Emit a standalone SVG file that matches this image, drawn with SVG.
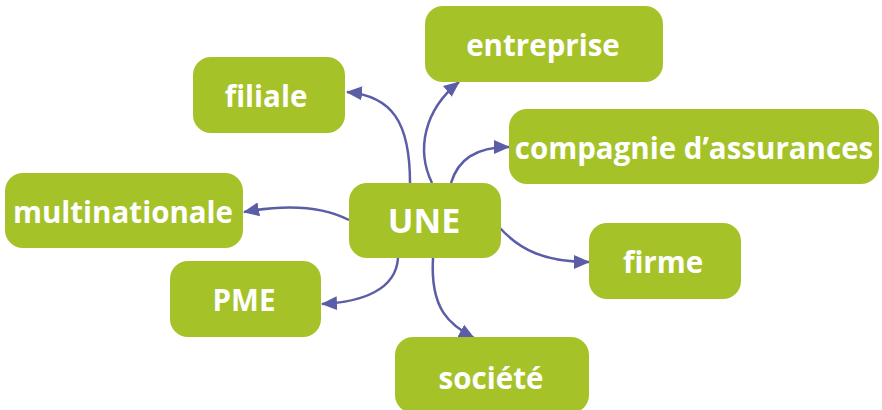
<svg xmlns="http://www.w3.org/2000/svg" width="882" height="410" viewBox="0 0 882 410">
<style>
.n{fill:#a6c229}
.t{fill:#fff;font-family:"Open Sans","DejaVu Sans",sans-serif;font-weight:700;font-size:29.5px;text-anchor:middle;dominant-baseline:central}
.c{fill:none;stroke:#5b5ea6;stroke-width:2.5;marker-end:url(#ah)}
</style>
<defs>
<marker id="ah" markerUnits="userSpaceOnUse" markerWidth="16" markerHeight="14" refX="15" refY="7" orient="auto" viewBox="0 0 16 14">
<path d="M0 0 L16 7 L0 14 Z" fill="#5b5ea6"/>
</marker>
</defs>
<g id="connectors">
<path class="c" d="M410 183 C410 122 392 96 347 92"/>
<path class="c" d="M432 183 C416 150 424 110 459 82"/>
<path class="c" d="M451 183 C458 160 475 147 509 147"/>
<path class="c" d="M349 220 C320 205 282 205 244 212"/>
<path class="c" d="M398 258 C396 290 362 302 322 304"/>
<path class="c" d="M433 258 C430 310 450 325 474 338"/>
<path class="c" d="M500 228 C520 250 545 262 589 262"/>
</g>
<g id="UNE"><rect class="n" x="349" y="183" width="152" height="75" rx="18"/><text class="t" x="424" y="220" style="font-size:34px">UNE</text></g>
<g id="filiale"><rect class="n" x="193" y="57" width="152" height="76" rx="18"/><text class="t" x="266" y="95">filiale</text></g>
<g id="entreprise"><rect class="n" x="425" y="6" width="238" height="76" rx="18"/><text class="t" x="543" y="44">entreprise</text></g>
<g id="compagnie"><rect class="n" x="509" y="109" width="370" height="75" rx="18"/><text class="t" x="694" y="147">compagnie d’assurances</text></g>
<g id="multinationale"><rect class="n" x="5" y="173" width="238" height="75" rx="18"/><text class="t" x="123" y="211">multinationale</text></g>
<g id="PME"><rect class="n" x="170" y="261" width="151" height="76" rx="18"/><text class="t" x="244" y="299">PME</text></g>
<g id="societe"><rect class="n" x="395" y="337" width="194" height="76" rx="18"/><text class="t" x="491" y="377">société</text></g>
<g id="firme"><rect class="n" x="589" y="223" width="152" height="76" rx="18"/><text class="t" x="663" y="261">firme</text></g>
</svg>
